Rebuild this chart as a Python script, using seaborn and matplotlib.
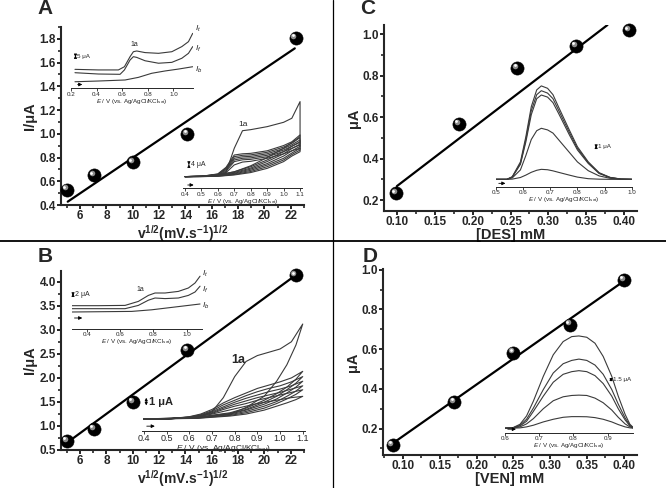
import matplotlib
matplotlib.use("Agg")
import matplotlib.pyplot as plt
import matplotlib.transforms as mtransforms
from matplotlib.lines import Line2D
from matplotlib.ticker import MultipleLocator, FormatStrFormatter
import seaborn as sns

# ---------------- main calibration plots ----------------
a_x = [5.0, 7.07, 10.0, 14.14, 22.36]
a_y = [0.53, 0.65, 0.76, 1.00, 1.81]
a_fit_x = [5.06, 22.3]
a_fit_y = [0.428, 1.72]

b_x = [5.0, 7.07, 10.0, 14.14, 22.36]
b_y = [0.69, 0.94, 1.50, 2.58, 4.13]
b_fit_x = [5.0, 22.5]
b_fit_y = [0.65, 4.16]

c_x = [0.099, 0.182, 0.259, 0.336, 0.406]
c_y = [0.232, 0.569, 0.838, 0.945, 1.019]
c_fit_x = [0.10, 0.378]
c_fit_y = [0.267, 1.045]

d_x = [0.086, 0.170, 0.250, 0.327, 0.400]
d_y = [0.118, 0.336, 0.583, 0.724, 0.950]
d_fit_x = [0.089, 0.404]
d_fit_y = [0.133, 0.953]

# ---------------- inset A (top): It / If / Ib ----------------
at_e_t = [0.231, 0.414, 0.570, 0.617, 0.661, 0.687, 0.713, 0.778, 0.883, 0.987, 1.065, 1.117, 1.150]
at_i_t = [13.0, 12.6, 12.6, 14.8, 21.7, 25.1, 25.6, 24.5, 24.0, 25.1, 28.6, 32.0, 37.7]
at_e_f = [0.231, 0.414, 0.583, 0.617, 0.661, 0.687, 0.713, 0.778, 0.883, 0.987, 1.065, 1.117, 1.150]
at_i_f = [10.7, 9.8, 9.6, 12.6, 19.4, 21.7, 21.2, 18.9, 17.2, 17.8, 20.6, 24.0, 28.6]
at_e_b = [0.231, 0.414, 0.622, 0.726, 0.830, 0.935, 1.039, 1.150]
at_i_b = [4.5, 5.0, 5.7, 7.5, 10.3, 11.9, 13.2, 14.8]

# ---------------- inset A (bottom): CVs ----------------
a_cv_e_fwd = [0.40, 0.50, 0.60, 0.65, 0.70, 0.75, 0.80, 0.90, 1.00, 1.05, 1.10]
a_cv_e_rev = [1.10, 1.10, 1.05, 1.00, 0.90, 0.80, 0.70, 0.60, 0.50, 0.40]
a_cv_fwd = [
    [7.8, 8.0, 8.9, 10.7, 26.7, 38.4, 39.1, 41.1, 44.0, 46.7, 57.8],
    [7.8, 8.0, 9.6, 14.0, 22.2, 23.0, 23.3, 25.0, 28.5, 31.0, 35.6],
    [7.8, 8.0, 9.4, 13.5, 21.1, 22.0, 22.3, 24.0, 27.5, 30.0, 33.8],
    [7.8, 8.0, 9.2, 13.0, 20.0, 21.0, 21.3, 23.0, 26.5, 29.0, 32.2],
    [7.8, 7.9, 9.0, 12.3, 18.9, 20.0, 20.3, 22.0, 25.5, 28.0, 30.7],
    [7.8, 7.9, 8.8, 11.5, 17.8, 19.0, 19.3, 21.0, 24.5, 26.7, 28.9],
    [7.8, 7.9, 8.6, 10.5, 15.6, 17.5, 18.0, 20.0, 23.0, 25.0, 26.7],
]
a_cv_rev = [
    [57.8, 34.4, 30.5, 26.7, 20.5, 15.0, 11.0, 8.9, 8.0, 7.8],
    [35.6, 31.0, 28.0, 24.4, 18.9, 14.4, 11.0, 8.9, 8.0, 7.8],
    [33.8, 29.5, 26.5, 23.0, 17.8, 13.5, 10.5, 8.7, 8.0, 7.8],
    [32.2, 28.0, 25.0, 21.5, 16.5, 12.8, 10.0, 8.5, 7.9, 7.8],
    [30.7, 26.7, 23.5, 20.0, 15.5, 12.0, 9.6, 8.3, 7.9, 7.8],
    [28.9, 25.5, 22.5, 18.9, 14.4, 11.2, 9.2, 8.1, 7.8, 7.8],
    [26.7, 24.4, 21.5, 17.8, 13.3, 10.5, 8.9, 8.0, 7.8, 7.8],
]

# ---------------- inset B (top): It / If / Ib ----------------
bt_e = [0.31, 0.47, 0.63, 0.71, 0.77, 0.81, 0.87, 0.95, 1.01, 1.05, 1.08]
bt_i_t = [5.83, 5.83, 5.9, 6.9, 8.4, 9.0, 9.0, 9.4, 10.25, 11.5, 13.2]
bt_i_f = [5.08, 5.08, 5.08, 5.9, 7.2, 7.75, 7.6, 7.75, 8.4, 9.25, 10.7]
bt_e_b = [0.31, 0.67, 0.79, 0.91, 1.01, 1.08]
bt_i_b = [4.25, 4.4, 4.8, 5.4, 5.9, 6.25]

# ---------------- inset B (bottom): CVs ----------------
b_cv_e_fwd = [0.40, 0.50, 0.60, 0.65, 0.70, 0.75, 0.80, 0.85, 0.90, 0.95, 1.00, 1.05, 1.10]
b_cv_e_rev = [1.10, 1.07, 1.03, 0.985, 0.93, 0.85, 0.78, 0.63, 0.40]
b_cv_fwd = [
    [0.875, 0.875, 0.975, 1.1, 1.43, 2.5, 4.1, 5.25, 5.7, 5.95, 6.2, 6.75, 8.1],
    [0.875, 0.875, 1.05, 1.25, 1.6, 2.1, 2.5, 2.85, 3.2, 3.45, 3.7, 4.0, 4.5],
    [0.875, 0.875, 1.03, 1.2, 1.5, 1.95, 2.3, 2.65, 2.95, 3.2, 3.4, 3.7, 4.1],
    [0.875, 0.875, 1.02, 1.15, 1.42, 1.8, 2.15, 2.45, 2.7, 2.95, 3.15, 3.4, 3.75],
    [0.875, 0.875, 1.0, 1.12, 1.35, 1.7, 2.0, 2.25, 2.5, 2.7, 2.9, 3.15, 3.4],
    [0.875, 0.875, 0.99, 1.1, 1.3, 1.6, 1.85, 2.05, 2.3, 2.5, 2.7, 2.9, 3.1],
    [0.875, 0.875, 0.98, 1.08, 1.25, 1.45, 1.65, 1.85, 2.05, 2.2, 2.35, 2.5, 2.6],
]
b_cv_rev = [
    [8.1, 6.5, 5.0, 3.75, 2.6, 1.75, 1.25, 0.95, 0.875],
    [4.5, 3.9, 3.3, 2.8, 2.3, 1.7, 1.35, 1.0, 0.875],
    [4.1, 3.6, 3.1, 2.6, 2.15, 1.6, 1.3, 0.98, 0.875],
    [3.75, 3.3, 2.85, 2.4, 2.0, 1.55, 1.25, 0.96, 0.875],
    [3.4, 3.0, 2.6, 2.2, 1.85, 1.45, 1.2, 0.95, 0.875],
    [3.1, 2.75, 2.4, 2.05, 1.7, 1.35, 1.15, 0.93, 0.875],
    [2.6, 2.35, 2.1, 1.85, 1.55, 1.25, 1.1, 0.92, 0.875],
]

# ---------------- inset C: DPV of DES ----------------
c_dpv_e = [0.50, 0.54, 0.56, 0.59, 0.61, 0.63, 0.65, 0.667, 0.69, 0.71, 0.73, 0.77, 0.80, 0.84, 0.88, 0.92, 0.96, 1.00]
c_dpv = [
    [0.92, 0.92, 1.25, 3.1, 6.25, 10.0, 12.1, 12.6, 12.3, 11.5, 10.0, 7.1, 5.0, 3.1, 1.75, 1.17, 0.96, 0.92],
    [0.92, 0.92, 1.22, 2.9, 5.9, 9.5, 11.5, 12.0, 11.7, 11.0, 9.6, 6.8, 4.8, 3.0, 1.7, 1.15, 0.95, 0.92],
    [0.92, 0.92, 1.2, 2.8, 5.6, 9.0, 11.0, 11.46, 11.2, 10.5, 9.2, 6.5, 4.6, 2.9, 1.65, 1.13, 0.95, 0.92],
    [0.92, 0.92, 1.1, 2.1, 3.9, 5.9, 7.0, 7.3, 7.1, 6.7, 5.9, 4.3, 3.1, 2.0, 1.35, 1.05, 0.94, 0.92],
    [0.92, 0.92, 0.95, 1.15, 1.45, 1.8, 2.05, 2.17, 2.12, 1.98, 1.8, 1.45, 1.2, 1.0, 0.94, 0.92, 0.92, 0.92],
]

# ---------------- inset D: DPV of VEN ----------------
d_dpv_e = [0.600, 0.624, 0.644, 0.663, 0.683, 0.712, 0.741, 0.770, 0.795, 0.816, 0.839, 0.863, 0.887, 0.912, 0.931, 0.951, 0.965, 0.975]
d_dpv = [
    [0.65, 0.75, 1.25, 2.5, 4.75, 8.5, 11.75, 13.75, 14.5, 14.6, 14.4, 13.5, 11.5, 8.5, 5.5, 2.75, 1.25, 0.75],
    [0.65, 0.72, 1.1, 2.0, 3.7, 6.5, 9.0, 10.4, 10.9, 11.1, 10.9, 10.2, 8.8, 6.5, 4.3, 2.2, 1.1, 0.7],
    [0.65, 0.7, 1.0, 1.7, 3.2, 5.5, 7.6, 8.8, 9.2, 9.35, 9.2, 8.6, 7.4, 5.5, 3.6, 1.9, 1.0, 0.7],
    [0.65, 0.68, 0.85, 1.3, 2.1, 3.6, 4.8, 5.4, 5.6, 5.65, 5.6, 5.2, 4.5, 3.4, 2.3, 1.3, 0.85, 0.68],
    [0.65, 0.66, 0.7, 0.85, 1.1, 1.6, 2.0, 2.3, 2.4, 2.4, 2.38, 2.25, 2.0, 1.6, 1.2, 0.85, 0.7, 0.66],
]

E_LABEL = r"$\mathit{E}$ / V (vs. Ag/AgCl/KCl$_{sat}$)"
V_LABEL = r"v$^{1/2}$(mV.s$^{-1}$)$^{1/2}$"
CURVE = "#3a3a3a"

sns.set_style("ticks")
plt.rcParams["font.family"] = ["Liberation Sans", "DejaVu Sans"]
plt.rcParams["font.weight"] = "bold"
plt.rcParams["axes.labelweight"] = "bold"
plt.rcParams["mathtext.fontset"] = "custom"
plt.rcParams["mathtext.rm"] = "Liberation Sans:weight=normal"
plt.rcParams["mathtext.it"] = "Liberation Sans:style=italic:weight=normal"
plt.rcParams["mathtext.default"] = "regular"

W, H = 666, 488
fig = plt.figure(figsize=(W / 100, H / 100), dpi=100)
fig.patch.set_facecolor("white")


def box(l, t, r, b):
    return [l / W, 1 - b / H, (r - l) / W, (b - t) / H]


def main_panel(rect, xs, ys, fxs, fys, xlim, ylim, xstep, ystep, xfmt, yfmt,
               xlabel, ylabel, xfs, xpad, ypad):
    ax = fig.add_axes(box(*rect))
    sns.lineplot(x=fxs, y=fys, ax=ax, color="black", linewidth=1.6)
    sns.scatterplot(x=xs, y=ys, ax=ax, s=90, color="black", edgecolor="black",
                    linewidth=0.4, zorder=3, clip_on=False)
    shine = ax.transData + mtransforms.ScaledTranslation(-1.5 / 72, 1.5 / 72, fig.dpi_scale_trans)
    ax.scatter(xs, ys, s=16, color="#8c8c8c", linewidths=0, transform=shine, zorder=4, clip_on=False)
    shine2 = ax.transData + mtransforms.ScaledTranslation(-2 / 72, 2 / 72, fig.dpi_scale_trans)
    ax.scatter(xs, ys, s=4, color="white", linewidths=0, transform=shine2, zorder=5, clip_on=False)
    ax.set_xlim(xlim)
    ax.set_ylim(ylim)
    ax.xaxis.set_major_locator(MultipleLocator(xstep))
    ax.xaxis.set_minor_locator(MultipleLocator(xstep / 2))
    ax.yaxis.set_major_locator(MultipleLocator(ystep))
    ax.yaxis.set_minor_locator(MultipleLocator(ystep / 2))
    ax.xaxis.set_major_formatter(FormatStrFormatter(xfmt))
    ax.yaxis.set_major_formatter(FormatStrFormatter(yfmt))
    sns.despine(ax=ax)
    for s in ("left", "bottom"):
        ax.spines[s].set_linewidth(1.5)
    ax.tick_params(which="major", direction="out", length=3, width=1.4, labelsize=8.5, pad=0.6)
    ax.tick_params(which="minor", direction="out", length=2, width=1.2)
    ax.set_xlabel(xlabel, fontsize=xfs, labelpad=xpad)
    ax.set_ylabel(ylabel, fontsize=10.5, labelpad=ypad)
    return ax


def inset(rect, xlim, ylim, ticks, fs, lfs=None):
    ax = fig.add_axes(box(*rect))
    ax.set_facecolor("none")
    ax.set_xlim(xlim)
    ax.set_ylim(ylim)
    for s in ("top", "right", "left"):
        ax.spines[s].set_visible(False)
    ax.spines["bottom"].set_linewidth(0.7)
    ax.set_yticks([])
    ax.set_xticks(ticks)
    ax.set_xticklabels([f"{t:.1f}" for t in ticks], fontsize=fs, fontweight="normal")
    ax.tick_params(axis="x", direction="out", length=1.8, width=0.6, pad=0.6)
    ax.set_xlabel(E_LABEL, fontsize=lfs or fs, fontweight="normal", labelpad=0)
    return ax


def hline_arrow(ax, x0, x1, y):
    ax.annotate("", xy=(x1, y), xytext=(x0, y),
                arrowprops=dict(arrowstyle="-|>", lw=0.6, color="black", mutation_scale=5))


def scale_bar(ax, x, y0, y1, text, fs, weight="normal"):
    ax.annotate("", xy=(x, y1), xytext=(x, y0),
                arrowprops=dict(arrowstyle="<|-|>", lw=0.6, color="black", mutation_scale=4))
    ax.text(x + (ax.get_xlim()[1] - ax.get_xlim()[0]) * 0.015, (y0 + y1) / 2, text,
            fontsize=fs, fontweight=weight, va="center", ha="left")


def curve(ax, xs, ys):
    sns.lineplot(x=xs, y=ys, ax=ax, color=CURVE, linewidth=0.8, sort=False, estimator=None)


# ---------- panel A ----------
main_panel((61, 27, 304, 205), a_x, a_y, a_fit_x, a_fit_y, (4.55, 23.0), (0.4, 1.9),
           2, 0.2, "%d", "%.1f", V_LABEL, "I/μA", 10, 0.8, 2)

ia = inset((71, 30, 192.7, 88.3), (0.2, 1.15), (0, 40), [0.2, 0.4, 0.6, 0.8, 1.0], 4.5)
curve(ia, at_e_t, at_i_t)
curve(ia, at_e_f, at_i_f)
curve(ia, at_e_b, at_i_b)
ia.text(0.695, 30.0, "1a", fontsize=5, fontweight="normal", ha="center", va="center")
for lab, yv in ((r"$\mathit{I_t}$", 41), (r"$\mathit{I_f}$", 27), (r"$\mathit{I_b}$", 12.5)):
    ia.text(1.17, yv, lab, fontsize=6, fontweight="normal", ha="left", va="center", clip_on=False)
scale_bar(ia, 0.235, 19.5, 24.5, "5 μA", 4.5)
hline_arrow(ia, 0.23, 0.31, 2.6)

ib = inset((183.3, 101.3, 301.7, 188.3), (0.39, 1.11), (0, 58),
           [0.4, 0.5, 0.6, 0.7, 0.8, 0.9, 1.0, 1.1], 4.5)
for f, r in zip(a_cv_fwd, a_cv_rev):
    curve(ib, a_cv_e_fwd + a_cv_e_rev, f + r)
ib.text(0.755, 42.7, "1a", fontsize=6, fontweight="normal", ha="center", va="center")
scale_bar(ib, 0.424, 13.8, 17.8, "4 μA", 5)
hline_arrow(ib, 0.40, 0.47, 2.2)

# ---------- panel B ----------
main_panel((61, 271, 304, 450), b_x, b_y, b_fit_x, b_fit_y, (4.55, 23.0), (0.5, 4.22),
           2, 0.5, "%d", "%.1f", V_LABEL, "I/μA", 10, 0.8, 2)

ic = inset((71.7, 273, 201.7, 329), (0.31, 1.09), (0, 14), [0.4, 0.6, 0.8, 1.0], 4.5)
curve(ic, bt_e, bt_i_t)
curve(ic, bt_e, bt_i_f)
curve(ic, bt_e_b, bt_i_b)
ic.text(0.72, 9.9, "1a", fontsize=5, fontweight="normal", ha="center", va="center")
for lab, yv in ((r"$\mathit{I_t}$", 13.8), (r"$\mathit{I_f}$", 9.8), (r"$\mathit{I_b}$", 5.9)):
    ic.text(1.09, yv, lab, fontsize=6, fontweight="normal", ha="left", va="center", clip_on=False)
scale_bar(ic, 0.318, 7.6, 9.6, "2 μA", 5)
hline_arrow(ic, 0.31, 0.39, 2.75)

idd = inset((141.7, 322.7, 305, 430.5), (0.39, 1.11), (0, 8.2),
            [0.4, 0.5, 0.6, 0.7, 0.8, 0.9, 1.0, 1.1], 6.5, 6)
for f, r in zip(b_cv_fwd, b_cv_rev):
    curve(idd, b_cv_e_fwd + b_cv_e_rev, f + r)
idd.text(0.816, 5.4, "1a", fontsize=9, fontweight="bold", ha="center", va="center")
scale_bar(idd, 0.41, 1.7, 2.7, "1 μA", 8, weight="bold")
hline_arrow(idd, 0.40, 0.46, 0.33)

# ---------- panel C ----------
main_panel((384, 25, 637, 211), c_x, c_y, c_fit_x, c_fit_y, (0.083, 0.417), (0.147, 1.045),
           0.05, 0.2, "%.2f", "%.1f", "[DES] mM", "μA", 10.5, -0.3, 1)

ie = inset((496, 82.7, 631.7, 186.7), (0.5, 1.0), (0, 13), [0.5, 0.6, 0.7, 0.8, 0.9, 1.0], 4.5)
for ys in c_dpv:
    curve(ie, c_dpv_e, ys)
scale_bar(ie, 0.869, 4.5, 5.5, "1 μA", 4.5)
hline_arrow(ie, 0.50, 0.545, 0.42)

# ---------- panel D ----------
main_panel((383, 269, 637, 455), d_x, d_y, d_fit_x, d_fit_y, (0.073, 0.418), (0.067, 1.004),
           0.05, 0.2, "%.2f", "%.1f", "[VEN] mM", "μA", 10.5, -0.3, 1)

iff = inset((505, 333.3, 633.3, 432.5), (0.6, 0.975), (0, 15), [0.6, 0.7, 0.8, 0.9], 4.5)
for ys in d_dpv:
    curve(iff, d_dpv_e, ys)
scale_bar(iff, 0.91, 7.25, 8.75, "1.5 μA", 4.5)
hline_arrow(iff, 0.60, 0.64, 0.5)

# ---------- panel letters and separators ----------
for letter, px, py in (("A", 45, 9), ("C", 368, 9), ("B", 45, 257), ("D", 370, 257)):
    fig.text(px / W, 1 - py / H, letter, fontsize=15, fontweight="bold", ha="center", va="center")

fig.add_artist(Line2D([0, 1], [1 - 241 / H] * 2, transform=fig.transFigure, color="black", lw=1.3))
fig.add_artist(Line2D([333 / W] * 2, [0, 1], transform=fig.transFigure, color="black", lw=0.9))

fig.savefig("out.png", dpi=100, facecolor="white")
